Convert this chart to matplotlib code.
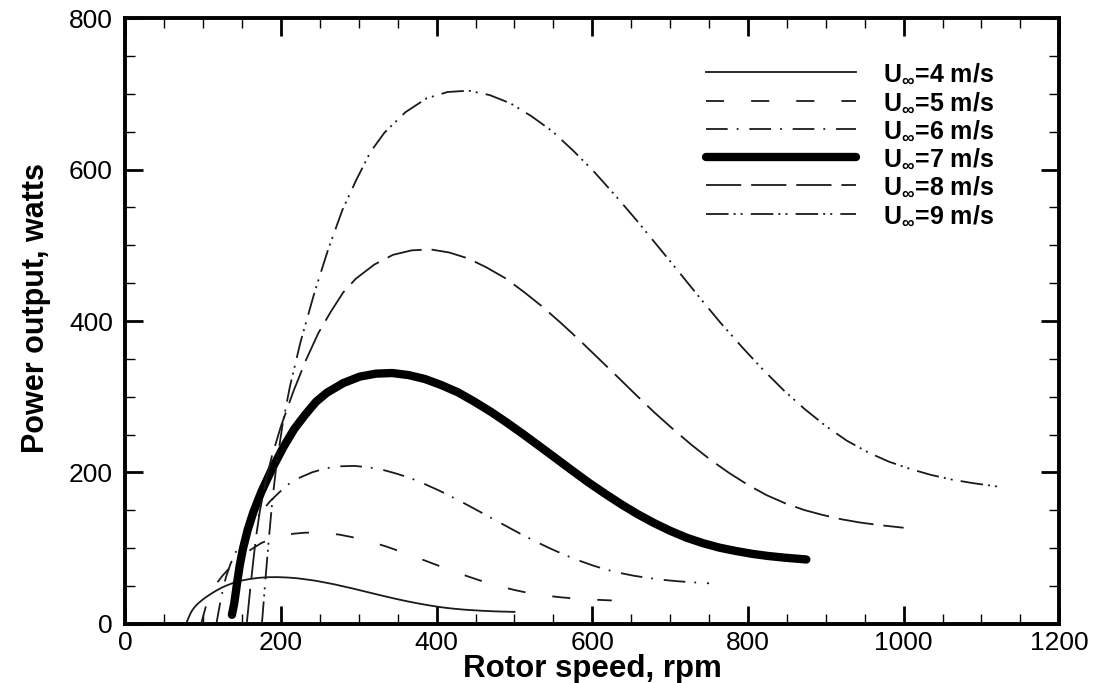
import numpy as np
import matplotlib
matplotlib.use("Agg")
import matplotlib.pyplot as plt
from matplotlib.ticker import MultipleLocator

# rotor speed (rpm) and power output (W) for each free-stream speed
rpm_u4 = [78, 80, 82, 84, 86.4, 90, 94, 100, 108, 116, 124, 132, 140, 148, 160, 172, 184, 196, 208, 220, 232, 244,
          256, 268, 280, 292, 304, 316, 328, 340, 352, 364, 376, 388, 400, 412, 424, 436, 448, 460, 472, 484, 500]
pow_u4 = [0, 5.1, 9.9, 14.4, 18.6, 23.4, 27.5, 32.6, 38.4, 43.5, 48.0, 51.5, 54.7, 57.0, 59.3, 60.9, 61.7, 61.8,
          61.3, 60.4, 58.8, 57.1, 54.8, 52.4, 49.6, 46.8, 43.8, 40.8, 37.8, 34.9, 32.1, 29.5, 27.1, 24.9, 22.9,
          21.2, 19.9, 18.8, 18.0, 17.3, 16.7, 16.3, 15.9]

rpm_u5 = [97.5, 100, 102.5, 105, 108, 112.5, 117.5, 125, 135, 145, 155, 165, 175, 185, 200, 215, 230, 245, 260, 275,
          290, 305, 320, 335, 350, 365, 380, 395, 410, 425, 440, 455, 470, 485, 500, 515, 530, 545, 560, 575, 590,
          605, 625]
pow_u5 = [0, 10.0, 19.4, 28.1, 36.3, 45.6, 53.8, 63.8, 75.0, 85.0, 93.8, 100.6, 106.9, 111.3, 115.9, 119.0, 120.4,
          120.8, 119.8, 117.9, 114.9, 111.5, 107.1, 102.3, 96.9, 91.4, 85.6, 79.8, 73.9, 68.1, 62.8, 57.6, 52.9,
          48.6, 44.8, 41.5, 38.9, 36.8, 35.1, 33.8, 32.7, 31.9, 31.0]

rpm_u6 = [117, 120, 123, 126, 129.6, 135, 141, 150, 162, 174, 186, 198, 210, 222, 240, 258, 276, 294, 312, 330, 348,
          366, 384, 402, 420, 438, 456, 474, 492, 510, 528, 546, 564, 582, 600, 618, 636, 654, 672, 690, 708, 726, 750]
pow_u6 = [0, 17.3, 33.5, 48.6, 62.6, 78.8, 92.9, 110.2, 129.6, 146.9, 162.0, 173.9, 184.7, 192.2, 200.2, 205.6,
          208.1, 208.7, 206.9, 203.7, 198.6, 192.7, 185.0, 176.7, 167.5, 157.9, 147.9, 137.8, 127.7, 117.7, 108.4,
          99.6, 91.4, 84.0, 77.4, 71.7, 67.2, 63.5, 60.7, 58.3, 56.5, 55.1, 53.6]

rpm_u7 = [137, 140, 143.5, 147, 151.2, 157.5, 164.5, 175, 189, 203, 217, 231, 245, 259, 280, 301, 322, 343, 364, 385,
          406, 427, 448, 469, 490, 511, 532, 553, 574, 595, 616, 637, 658, 679, 700, 721, 742, 763, 784, 805, 826,
          847, 875]
pow_u7 = [12, 27.4, 53.2, 77.2, 99.5, 125.2, 147.5, 174.9, 205.8, 233.2, 257.3, 276.1, 293.3, 305.3, 318.0, 326.5,
          330.5, 331.3, 328.6, 323.4, 315.4, 306.0, 293.8, 280.6, 266.0, 250.7, 234.8, 218.8, 202.7, 186.9, 172.2,
          158.1, 145.1, 133.4, 123.0, 113.9, 106.7, 100.8, 96.4, 92.6, 89.7, 87.5, 85.1]

rpm_u8 = [156, 160, 164, 168, 172.8, 180, 188, 200, 216, 232, 248, 264, 280, 296, 320, 344, 368, 392, 416, 440, 464,
          488, 512, 536, 560, 584, 608, 632, 656, 680, 704, 728, 752, 776, 800, 824, 848, 872, 896, 920, 944, 968, 1000]
pow_u8 = [0, 41.0, 79.4, 115.2, 148.5, 186.9, 220.2, 261.1, 307.2, 348.2, 384.0, 412.2, 437.8, 455.7, 474.6, 487.4,
          493.3, 494.6, 490.5, 482.8, 470.8, 456.7, 438.5, 418.8, 397.1, 374.3, 350.5, 326.7, 302.6, 279.0, 257.0,
          236.0, 216.6, 199.2, 183.6, 170.0, 159.2, 150.5, 143.9, 138.2, 133.9, 130.6, 127.0]

rpm_u9 = [175.5, 180, 184.5, 189, 194.4, 202.5, 211.5, 225, 243, 261, 279, 297, 315, 333, 360, 387, 414, 441, 468,
          495, 522, 549, 576, 603, 630, 657, 684, 711, 738, 765, 792, 819, 846, 873, 900, 927, 954, 981, 1008, 1035,
          1062, 1089, 1125]
pow_u9 = [0, 58.3, 113.0, 164.0, 211.4, 266.1, 313.5, 371.8, 437.4, 495.7, 546.8, 586.8, 623.3, 648.8, 675.8, 694.0,
          702.4, 704.2, 698.4, 687.4, 670.3, 650.3, 624.4, 596.3, 565.3, 532.9, 499.0, 465.1, 430.8, 397.3, 366.0,
          336.1, 308.4, 283.6, 261.3, 242.0, 226.7, 214.3, 204.8, 196.8, 190.6, 185.9, 180.8]

labels = ["U$_{\\infty}$=4 m/s", "U$_{\\infty}$=5 m/s", "U$_{\\infty}$=6 m/s",
          "U$_{\\infty}$=7 m/s", "U$_{\\infty}$=8 m/s", "U$_{\\infty}$=9 m/s"]

plt.rcParams['font.family'] = ['Liberation Sans', 'DejaVu Sans']
plt.rcParams['mathtext.fontset'] = 'custom'
plt.rcParams['mathtext.rm'] = 'Liberation Sans:bold'
plt.rcParams['mathtext.it'] = 'Liberation Sans:bold'
plt.rcParams['mathtext.bf'] = 'Liberation Sans:bold'

fig = plt.figure(figsize=(11.04, 6.83), dpi=100)
ax = fig.add_axes([0.1135, 0.0865, 0.846, 0.887])

lc = '#1a1a1a'
ax.plot(rpm_u4, pow_u4, color=lc, lw=1.3, ls='-', label=labels[0])
ax.plot(rpm_u5, pow_u5, color=lc, lw=1.3, ls=(0, (10, 15)), label=labels[1])
ax.plot(rpm_u6, pow_u6, color=lc, lw=1.3, ls=(0, (12, 5, 1, 6)), label=labels[2])
ax.plot(rpm_u7, pow_u7, color='black', lw=6.0, ls='-', solid_capstyle='round', label=labels[3])
ax.plot(rpm_u8, pow_u8, color=lc, lw=1.3, ls=(0, (19.5, 5.5)), label=labels[4])
ax.plot(rpm_u9, pow_u9, color=lc, lw=1.3, ls=(0, (12.5, 2.8, 1.1, 2.8, 1.1, 4.5)), label=labels[5])

ax.set_xlim(0, 1200)
ax.set_ylim(0, 800)
ax.xaxis.set_major_locator(MultipleLocator(200))
ax.xaxis.set_minor_locator(MultipleLocator(50))
ax.yaxis.set_major_locator(MultipleLocator(200))
ax.yaxis.set_minor_locator(MultipleLocator(50))
ax.tick_params(which='both', direction='in', top=True, right=True, colors='black')
ax.tick_params(which='major', length=13, width=2.0, labelsize=19)
ax.tick_params(which='minor', length=7, width=1.0)
ax.tick_params(axis='x', which='major', pad=5)
ax.tick_params(axis='y', which='major', pad=9)
for sp in ax.spines.values():
    sp.set_linewidth(2.8)

ax.set_xlabel('Rotor speed, rpm', fontsize=22.5, fontweight='bold', va='top')
ax.set_ylabel('Power output, watts', fontsize=22, fontweight='bold')
ax.xaxis.set_label_coords(0.5, -0.049)
ax.yaxis.set_label_coords(-0.080, 0.522)

leg = ax.legend(loc='upper left', bbox_to_anchor=(0.611, 0.944), frameon=False,
                handlelength=6.0, handletextpad=1.08, labelspacing=0.17,
                borderaxespad=0, prop=dict(weight='bold', size=18))

fig.savefig('out.png', dpi=100)
